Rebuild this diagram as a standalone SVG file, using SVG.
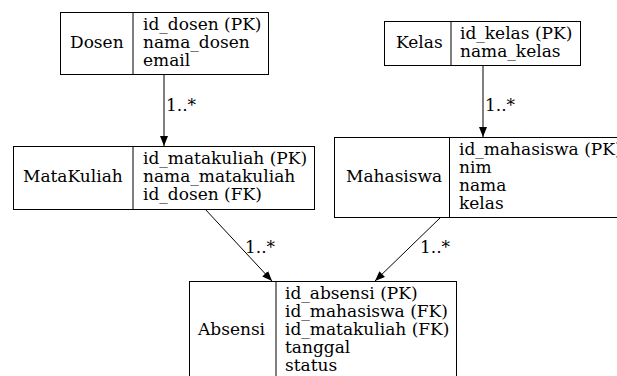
<svg xmlns="http://www.w3.org/2000/svg" width="617" height="376" viewBox="0 0 617 376" font-family="'DejaVu Serif', serif" font-size="17">
<defs>
<marker id="arr" viewBox="0 0 10 10" refX="10" refY="5" markerWidth="10" markerHeight="10" markerUnits="userSpaceOnUse" orient="auto">
<path d="M0,1 L10,5 L0,9 Z" fill="#000"/>
</marker>
</defs>
<style>
.box { fill: #fff; stroke: #000; stroke-width: 1; }
.div { stroke: #000; stroke-width: 1; }
.e { stroke: #000; stroke-width: 1; fill: none; marker-end: url(#arr); }
</style>
<rect x="0" y="0" width="617" height="376" fill="#fff"/>
<g id="connectors">
<line class="e" x1="164" y1="74" x2="164" y2="146"/>
<text x="166" y="111">1..*</text>
<line class="e" x1="483" y1="65" x2="483" y2="137"/>
<text x="485" y="111">1..*</text>
<line class="e" x1="205" y1="209" x2="272" y2="281"/>
<text x="245" y="253">1..*</text>
<line class="e" x1="440" y1="218" x2="375" y2="281"/>
<text x="420" y="253">1..*</text>
</g>
<g id="Dosen">
<rect class="box" x="60.5" y="12.5" width="208" height="62"/>
<line class="div" x1="133" y1="12.5" x2="133" y2="74.5"/>
<text x="70" y="48">Dosen</text>
<text x="143" y="30">id_dosen (PK)</text>
<text x="143" y="48">nama_dosen</text>
<text x="143" y="66">email</text>
</g>
<g id="Kelas">
<rect class="box" x="384.5" y="21.5" width="196" height="44"/>
<line class="div" x1="451" y1="21.5" x2="451" y2="65.5"/>
<text x="396" y="48">Kelas</text>
<text x="460" y="39">id_kelas (PK)</text>
<text x="460" y="57">nama_kelas</text>
</g>
<g id="MataKuliah">
<rect class="box" x="13.5" y="146.5" width="301" height="63"/>
<line class="div" x1="133" y1="146.5" x2="133" y2="209.5"/>
<text x="23" y="182">MataKuliah</text>
<text x="143" y="164">id_matakuliah (PK)</text>
<text x="143" y="182">nama_matakuliah</text>
<text x="143" y="200">id_dosen (FK)</text>
</g>
<g id="Mahasiswa">
<rect class="box" x="334.5" y="137.5" width="300" height="80"/>
<line class="div" x1="449.5" y1="137.5" x2="449.5" y2="217.5"/>
<text x="346" y="182">Mahasiswa</text>
<text x="459" y="155">id_mahasiswa (PK)</text>
<text x="459" y="173">nim</text>
<text x="459" y="191">nama</text>
<text x="459" y="209">kelas</text>
</g>
<g id="Absensi">
<rect class="box" x="189.5" y="281.5" width="267" height="98"/>
<line class="div" x1="276" y1="281.5" x2="276" y2="379.5"/>
<text x="198" y="335">Absensi</text>
<text x="285" y="299">id_absensi (PK)</text>
<text x="285" y="317">id_mahasiswa (FK)</text>
<text x="285" y="335">id_matakuliah (FK)</text>
<text x="285" y="353">tanggal</text>
<text x="285" y="371">status</text>
</g>
</svg>
